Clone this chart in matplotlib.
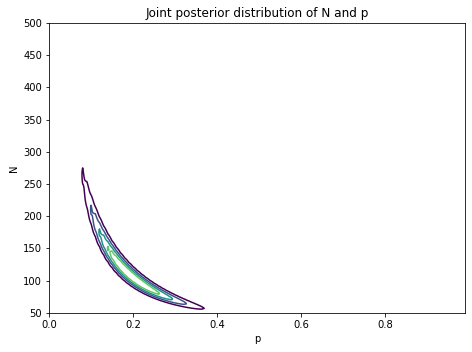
import numpy as np
import matplotlib
matplotlib.use("Agg")
import matplotlib.pyplot as plt
from math import lgamma

# observed herd counts and prior settings
counts = [15, 20, 21, 23, 26]
prior_a, prior_b = 5, 18          # Beta prior on p
p_grid = np.arange(0.0, 1.0, 0.01)
N_grid = np.arange(50, 501)
levels = [0.22, 0.40, 0.58, 0.76]  # relative to the posterior maximum

lg = np.vectorize(lgamma)
P, NN = np.meshgrid(p_grid, N_grid)
with np.errstate(divide="ignore", invalid="ignore"):
    logpost = (prior_a - 1) * np.log(P) + (prior_b - 1) * np.log1p(-P)
    for k in counts:
        logpost = (logpost + lg(NN + 1) - lg(k + 1) - lg(NN - k + 1)
                   + k * np.log(P) + (NN - k) * np.log1p(-P))
logpost = np.nan_to_num(logpost, nan=-np.inf)
post = np.exp(logpost - logpost.max())

fig, ax = plt.subplots(figsize=(472 / 72, 352 / 72), dpi=72)
ax.contour(p_grid, N_grid, post, levels=levels, cmap="viridis",
           vmin=levels[0], vmax=levels[-1] + (levels[1] - levels[0]))
ax.set_xlim(p_grid[0], p_grid[-1])
ax.set_ylim(N_grid[0], N_grid[-1])
ax.set_title("Joint posterior distribution of N and p")
ax.set_xlabel("p")
ax.set_ylabel("N")
fig.subplots_adjust(left=0.104, right=0.985, top=0.935, bottom=0.111)
fig.savefig("out.png", dpi=72)
